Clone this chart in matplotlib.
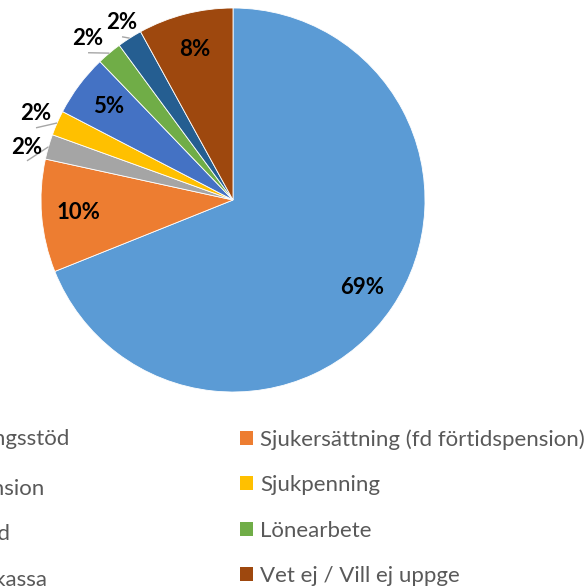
import matplotlib
matplotlib.use("Agg")
import matplotlib.pyplot as plt
from matplotlib.patches import Patch
import numpy as np

categories = ["Försörjningsstöd", "Sjukersättning (fd förtidspension)", "Ålderspension",
              "Sjukpenning", "Studiestöd", "Lönearbete", "Ersätt. a-kassa", "Vet ej / Vill ej uppge"]
shares = [69.0, 9.5, 2.1, 2.1, 5.2, 2.1, 2.1, 8.0]
share_labels = ["69%", "10%", "2%", "2%", "5%", "2%", "2%", "8%"]
colors = ["#5B9BD5", "#ED7D31", "#A5A5A5", "#FFC000", "#4472C4", "#70AD47", "#255E91", "#9E480E"]

plt.rcParams['font.family'] = ['Lato', 'DejaVu Sans']

W = H = 587
fig = plt.figure(figsize=(W / 100, H / 100), dpi=100)
cx, cy, r = 233, 200, 192
ax = fig.add_axes([(cx - r) / W, (H - cy - r) / H, 2 * r / W, 2 * r / H])
wedges, _ = ax.pie(shares, colors=colors, startangle=90, counterclock=False, radius=1,
                   wedgeprops=dict(edgecolor='white', linewidth=0.6))
ax.set_xlim(-1, 1)
ax.set_ylim(-1, 1)
ax.set_aspect('equal')
ax.axis('off')

# outside label positions (layout) for the small slices
outside = {2: (-1.073, 0.276), 3: (-1.026, 0.448), 5: (-0.755, 0.839), 6: (-0.578, 0.922)}
lab_kw = dict(ha='center', va='center', fontsize=16, fontweight='bold', color='black')
for i, w in enumerate(wedges):
    mid = np.deg2rad((w.theta1 + w.theta2) / 2)
    if i in outside:
        tx, ty = outside[i]
        ax.plot([tx, np.cos(mid)], [ty - 0.072, np.sin(mid)], color='#A6A6A6', lw=1.0,
                clip_on=False, solid_capstyle='butt')
        ax.text(tx, ty, share_labels[i], **lab_kw)
    else:
        ax.text(0.81 * np.cos(mid), 0.81 * np.sin(mid), share_labels[i], **lab_kw)

fs = 16
leg_kw = dict(frameon=False, fontsize=fs, handlelength=0.6, handleheight=0.6,
              handletextpad=0.32, labelspacing=1.15, borderpad=0, borderaxespad=0,
              labelcolor='#595959')
left_idx = [0, 2, 4, 6]
right_idx = [1, 3, 5, 7]
top = 1 - 429 / H
fig.legend(handles=[Patch(facecolor=colors[i], linewidth=0) for i in left_idx],
           labels=[categories[i] for i in left_idx],
           loc='upper right', bbox_to_anchor=(69 / W, top), **leg_kw)
fig.legend(handles=[Patch(facecolor=colors[i], linewidth=0) for i in right_idx],
           labels=[categories[i] for i in right_idx],
           loc='upper left', bbox_to_anchor=(240 / W, top), **leg_kw)

fig.savefig('out.png', dpi=100)
